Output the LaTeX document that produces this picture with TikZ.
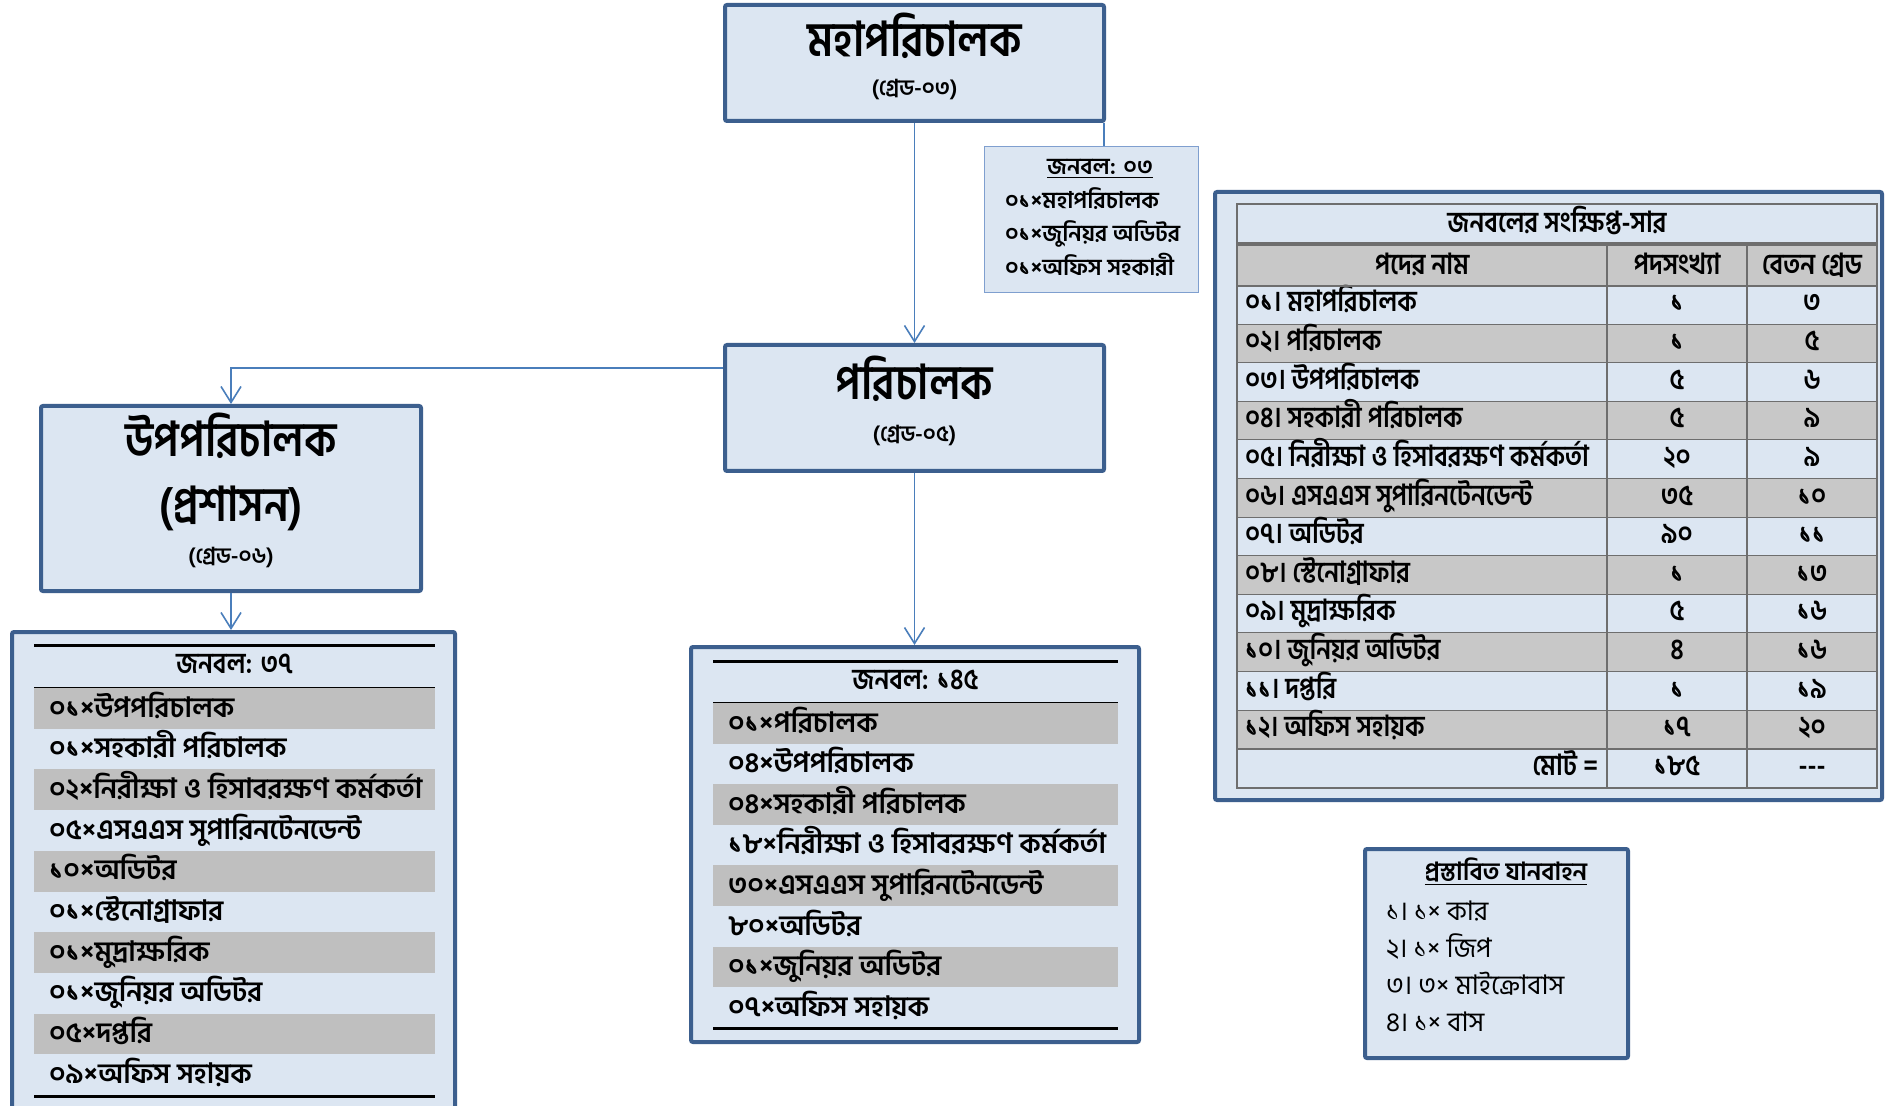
\documentclass[tikz,border=0pt]{standalone}
\usepackage{fontspec}
\setmainfont{Hind Siliguri}[Script=Bengali]
\newfontfamily\narrowbn{Hind Siliguri}[Script=Bengali,FakeStretch=0.88]
\usetikzlibrary{arrows.meta}

\begin{document}
\begin{tikzpicture}[x=0.5pt,y=-0.5pt,
  link/.style={draw=lineColor,line width=0.8pt},
  arrowlink/.style={link,-{Straight Barb[length=8pt,width=10pt]}},
  orgbox/.style={draw=boxColor,line width=2pt,fill=fillColor,inner sep=0pt,rounded corners=1pt},
  notebox/.style={draw=thinColor,line width=0.6pt,fill=fillColor,inner sep=0pt},
  txt/.style={inner sep=0pt,outer sep=0pt,anchor=base},
  headtxt/.style={txt,font=\narrowbn\fontsize{24}{26}\selectfont\bfseries},
  gradetxt/.style={txt,font=\fontsize{11}{13}\selectfont\bfseries},
  listtxt/.style={txt,anchor=base west,font=\fontsize{14}{16}\selectfont\bfseries},
  notetxt/.style={txt,anchor=base west,font=\fontsize{11.5}{13}\selectfont\bfseries},
  celltxt/.style={txt,font=\narrowbn\fontsize{14.5}{16}\selectfont\bfseries},
  vehtxt/.style={txt,anchor=base west,font=\fontsize{13.5}{15}\selectfont},
  blackrule/.style={draw=black,line width=1.5pt},
  gridline/.style={draw=gridColor,line width=1pt}]
\definecolor{fillColor}{RGB}{220,230,242}
\definecolor{boxColor}{RGB}{60,95,142}
\definecolor{thinColor}{RGB}{127,159,207}
\definecolor{lineColor}{RGB}{74,126,187}
\definecolor{rowGray}{RGB}{191,191,191}
\definecolor{cellGray}{RGB}{200,200,200}
\definecolor{gridColor}{RGB}{110,110,110}
\path[use as bounding box,fill=white] (0,0) rectangle (1888,1106);

\node[orgbox,minimum width=189.5pt,minimum height=58pt] (dg) at (914.5,63) {};
\node[headtxt] (dgname) at (914.5,57) {মহাপরিচালক};
\node[gradetxt] (dggrade) at (914.5,96) {(গ্রেড-০৩)};

\node[notebox,minimum width=107pt,minimum height=73pt] (dgstaff) at (1091.5,219.5) {};
\node[notetxt,anchor=base] (dgstaffhead) at (1100,175) {\underline{জনবল: ০৩}};
\foreach \t [count=\i] in {০১×মহাপরিচালক,০১×জুনিয়র অডিটর,০১×অফিস সহকারী}
  \node[notetxt] (dgstaff\i) at (1005,175+33.5*\i) {\t};

\node[orgbox,minimum width=189.5pt,minimum height=63pt] (dir) at (914.5,408) {};
\node[headtxt] (dirname) at (914.5,400) {পরিচালক};
\node[gradetxt] (dirgrade) at (914.5,442) {(গ্রেড-০৫)};

\node[orgbox,minimum width=190pt,minimum height=92.5pt] (dd) at (231,498.5) {};
\node[headtxt] (ddname) at (231,457) {উপপরিচালক};
\node[headtxt] (ddwing) at (231,522) {(প্রশাসন)};
\node[gradetxt] (ddgrade) at (231,563) {(গ্রেড-০৬)};

\node[orgbox,minimum width=221.5pt,minimum height=250pt] (ddstaff) at (233.5,882) {};
\draw[blackrule] (34,645) -- (435,645);
\node[celltxt] (ddstaffhead) at (234.5,673) {জনবল: ৩৭};
\draw[blackrule] (34,688) -- (435,688);
\foreach \t [count=\i] in {০১×উপপরিচালক,০১×সহকারী পরিচালক,০২×নিরীক্ষা ও হিসাবরক্ষণ কর্মকর্তা,০৫×এসএএস সুপারিনটেনডেন্ট,১০×অডিটর,০১×স্টেনোগ্রাফার,০১×মুদ্রাক্ষরিক,০১×জুনিয়র অডিটর,০৫×দপ্তরি,০৯×অফিস সহায়ক}{
  \ifodd\i \fill[rowGray] (34,647.3+40.7*\i) rectangle (435,688+40.7*\i);\fi
  \node[listtxt] (ddrow\i) at (49,676.3+40.7*\i) {\t};
}
\draw[blackrule] (34,1096) -- (435,1096);

\node[orgbox,minimum width=224pt,minimum height=197.5pt] (dirstaff) at (915,844.5) {};
\draw[blackrule] (713,661) -- (1118,661);
\node[celltxt] (dirstaffhead) at (915.5,689) {জনবল: ১৪৫};
\draw[blackrule] (713,703) -- (1118,703);
\foreach \t [count=\i] in {০১×পরিচালক,০৪×উপপরিচালক,০৪×সহকারী পরিচালক,১৮×নিরীক্ষা ও হিসাবরক্ষণ কর্মকর্তা,৩০×এসএএস সুপারিনটেনডেন্ট,৮০×অডিটর,০১×জুনিয়র অডিটর,০৭×অফিস সহায়ক}{
  \ifodd\i \fill[rowGray] (713,662.4+40.6*\i) rectangle (1118,703+40.6*\i);\fi
  \node[listtxt] (dirrow\i) at (728,691.4+40.6*\i) {\t};
}
\draw[blackrule] (713,1028) -- (1118,1028);

\node[orgbox,minimum width=333.5pt,minimum height=304pt] (summary) at (1548.5,496) {};
\fill[fillColor] (1237,204) rectangle (1877,243);
\node[celltxt] (sumtitle) at (1557,233) {জনবলের সংক্ষিপ্ত-সার};
\fill[cellGray] (1237,245) rectangle (1877,286);
\node[celltxt] (sumhead1) at (1422,275) {পদের নাম};
\node[celltxt] (sumhead2) at (1677,275) {পদসংখ্যা};
\node[celltxt] (sumhead3) at (1812,275) {বেতন গ্রেড};
\foreach \n/\p/\g [count=\i] in {০১। মহাপরিচালক/১/৩,০২। পরিচালক/১/৫,০৩। উপপরিচালক/৫/৬,০৪। সহকারী পরিচালক/৫/৯,০৫। নিরীক্ষা ও হিসাবরক্ষণ কর্মকর্তা/২০/৯,০৬। এসএএস সুপারিনটেনডেন্ট/৩৫/১০,০৭। অডিটর/৯০/১১,০৮। স্টেনোগ্রাফার/১/১৩,০৯। মুদ্রাক্ষরিক/৫/১৬,১০। জুনিয়র অডিটর/৪/১৬,১১। দপ্তরি/১/১৯,১২। অফিস সহায়ক/১৭/২০}{
  \ifodd\i \def\rowfill{fillColor}\else\def\rowfill{cellGray}\fi
  \fill[\rowfill] (1237,247.4+38.6*\i) rectangle (1877,286+38.6*\i);
  \node[celltxt,anchor=base west] (sumname\i) at (1245,273.4+38.6*\i) {\n};
  \node[celltxt] (sumposts\i) at (1677,273.4+38.6*\i) {\p};
  \node[celltxt] (sumgrade\i) at (1812,273.4+38.6*\i) {\g};
  \draw[gridline] (1237,286+38.6*\i) -- (1877,286+38.6*\i);
}
\node[celltxt,anchor=base east] (sumtotal) at (1598,775) {মোট =};
\node[celltxt] (sumtotalposts) at (1677,775) {১৮৫};
\node[celltxt] (sumtotalgrade) at (1812,775) {-{}-{}-};
\draw[gridline] (1237,204) rectangle (1877,788);
\draw[gridline,line width=2pt] (1237,244) -- (1877,244);
\draw[gridline] (1237,286) -- (1877,286);
\draw[gridline] (1607,245) -- (1607,788);
\draw[gridline] (1747,245) -- (1747,788);

\node[orgbox,minimum width=131.5pt,minimum height=104.5pt] (vehicles) at (1496.5,953.5) {};
\node[vehtxt,anchor=base,font=\fontsize{12.5}{14}\selectfont\bfseries] (vehhead) at (1506,880) {\underline{প্রস্তাবিত যানবাহন}};
\foreach \t [count=\i] in {১। ১× কার,২। ১× জিপ,৩। ৩× মাইক্রোবাস,৪। ১× বাস}
  \node[vehtxt] (veh\i) at (1386,883+37*\i) {\t};

\draw[arrowlink] (dg.south) -- (dg.south |- dir.north);
\draw[arrowlink] ([yshift=20pt]dir.west) -| (dd.north);
\draw[arrowlink] (dd.south) -- (dd.south |- ddstaff.north);
\draw[arrowlink] (dir.south) -- (dir.south |- dirstaff.north);
\coordinate (dgcorner) at ([xshift=-1pt]dg.south east);
\draw[link] (dgcorner) -- (dgcorner |- dgstaff.north);
\end{tikzpicture}
\end{document}
